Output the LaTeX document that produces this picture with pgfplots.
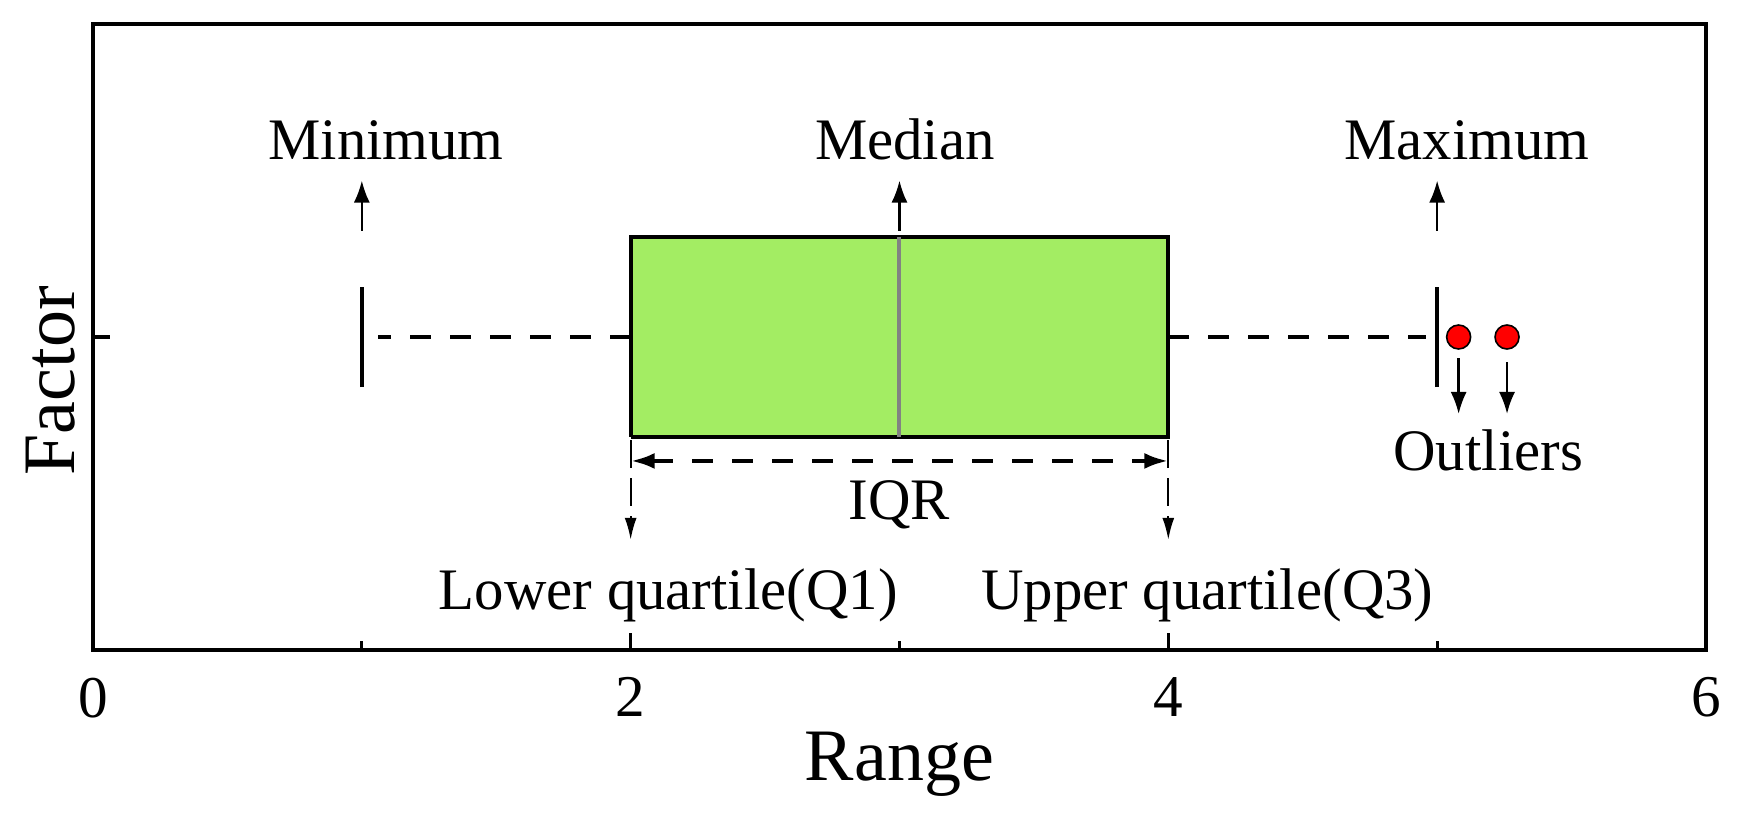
\documentclass[border=0pt]{standalone}
\usepackage{pgfplots}
\pgfplotsset{compat=1.18}
\usepackage{fontspec}
\setmainfont{Liberation Serif}
\usetikzlibrary{arrows.meta}
\definecolor{boxgreen}{RGB}{163,237,99}
\definecolor{medgray}{RGB}{130,130,130}
\newcommand{\annot}{\fontsize{14.7}{17}\selectfont}
\begin{document}
\begin{tikzpicture}
\begin{axis}[
  scale only axis,
  width=403.25pt, height=156.5pt,
  xmin=0, xmax=6, ymin=0, ymax=1,
  xtick={0,2,4,6}, minor xtick={1,3,5},
  ytick={0.5}, yticklabels={},
  xtick pos=bottom, ytick pos=left,
  tick align=inside,
  major tick length=4.3pt, minor tick length=2.2pt,
  every tick/.style={black, line width=0.8pt},
  axis line style={line width=1pt},
  /pgf/number format/assume math mode=true,
  xticklabel style={font=\fontsize{14.8}{17}\selectfont, inner sep=0pt, anchor=north, yshift=-6.75pt},
  xlabel={Range}, ylabel={Factor},
  label style={font=\fontsize{18.5}{22}\selectfont},
  xlabel style={at={([yshift=-32.5pt]axis description cs:0.5,0)}, anchor=base},
  ylabel style={at={([xshift=-4.5pt]axis description cs:0,0.43)}, anchor=base},
  clip=false,
]
% box (Q1 = 2, Q3 = 4)
\addplot[draw=black, line width=1pt, fill=boxgreen] coordinates {(2,0.34) (4,0.34) (4,0.66) (2,0.66) (2,0.34)};
% median
\addplot[medgray, line width=1pt] coordinates {(3,0.34) (3,0.66)};
% whiskers
\addplot[black, line width=1.1pt, dash pattern=on 5.25pt off 4.75pt] coordinates {(2,0.5) (1.06,0.5)};
\addplot[black, line width=1.1pt, dash pattern=on 5.25pt off 4.75pt] coordinates {(4,0.5) (4.96,0.5)};
% whisker caps (min = 1, max = 5)
\addplot[black, line width=1.1pt] coordinates {(1,0.42) (1,0.58)};
\addplot[black, line width=1.1pt] coordinates {(5,0.42) (5,0.58)};
% outliers
\addplot[only marks, mark=*, mark size=3pt, mark options={fill=red, draw=black, line width=0.4pt}] coordinates {(5.08,0.5) (5.26,0.5)};
% up arrows
\addplot[black, line width=0.6pt, -{Latex[length=5.5pt,width=4pt]}] coordinates {(1,0.67) (1,0.75)};
\addplot[black, line width=0.6pt, -{Latex[length=5.5pt,width=4pt]}] coordinates {(3,0.67) (3,0.75)};
\addplot[black, line width=0.6pt, -{Latex[length=5.5pt,width=4pt]}] coordinates {(5,0.67) (5,0.75)};
% outlier arrows
\addplot[black, line width=0.6pt, -{Latex[length=5.5pt,width=4pt]}] coordinates {(5.08,0.466) (5.08,0.377)};
\addplot[black, line width=0.6pt, -{Latex[length=5.5pt,width=4pt]}] coordinates {(5.26,0.46) (5.26,0.377)};
% IQR arrow
\addplot[black, line width=1.1pt, dash pattern=on 5.25pt off 4.75pt, {Latex[length=6pt,width=4pt]}-{Latex[length=6pt,width=4pt]}] coordinates {(2,0.302) (4,0.302)};
% quartile down arrows
\addplot[black, line width=0.5pt, dash pattern=on 7pt off 2.5pt, -{Latex[length=5.5pt,width=3pt]}] coordinates {(2,0.335) (2,0.176)};
\addplot[black, line width=0.5pt, dash pattern=on 7pt off 2.5pt, -{Latex[length=5.5pt,width=3pt]}] coordinates {(4,0.335) (4,0.176)};
% labels
\node[anchor=base, font=\annot] at (axis cs:1.09,0.783) {Minimum};
\node[anchor=base, font=\annot] at (axis cs:3.02,0.783) {Median};
\node[anchor=base, font=\annot] at (axis cs:5.11,0.783) {Maximum};
\node[anchor=base, font=\annot] at (axis cs:5.19,0.286) {Outliers};
\node[anchor=base, font=\annot] at (axis cs:3.0,0.208) {IQR};
\node[anchor=base, font=\annot] at (axis cs:2.14,0.064) {Lower quartile(Q1)};
\node[anchor=base, font=\annot] at (axis cs:4.145,0.064) {Upper quartile(Q3)};
\end{axis}
\pgfresetboundingbox
\path (-23.25pt,-41.25pt) rectangle (411.25pt,162.5pt);
\end{tikzpicture}
\end{document}
